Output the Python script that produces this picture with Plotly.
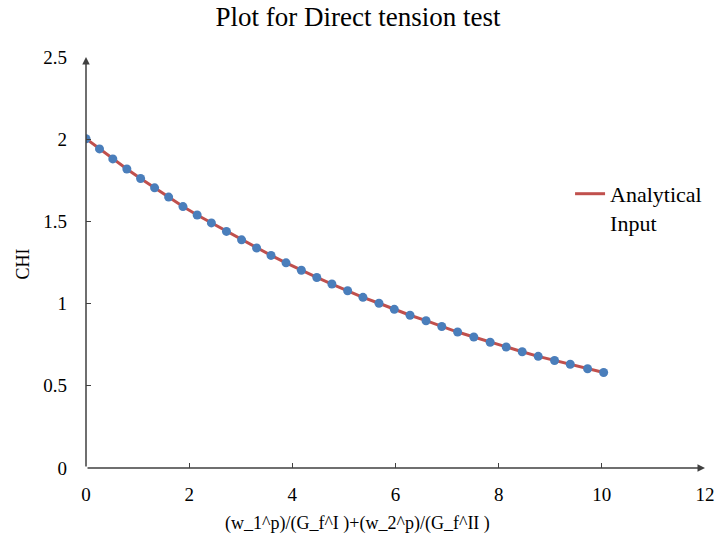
import plotly.graph_objects as go

x_vals = [0.000, 0.262, 0.520, 0.792, 1.058, 1.330, 1.602, 1.880, 2.155, 2.431,
          2.723, 3.016, 3.307, 3.587, 3.878, 4.175, 4.474, 4.767, 5.072, 5.369,
          5.680, 5.977, 6.282, 6.592, 6.897, 7.204, 7.518, 7.835, 8.146, 8.456,
          8.767, 9.083, 9.388, 9.724, 10.035]
chi_vals = [2.003, 1.941, 1.880, 1.819, 1.761, 1.704, 1.648, 1.590, 1.539, 1.491,
            1.439, 1.388, 1.338, 1.293, 1.248, 1.203, 1.159, 1.119, 1.078, 1.038,
            1.002, 0.965, 0.929, 0.896, 0.861, 0.827, 0.797, 0.765, 0.736, 0.707,
            0.679, 0.654, 0.631, 0.604, 0.581]
x_ticks = [0, 2, 4, 6, 8, 10, 12]
y_ticks = [0, 0.5, 1, 1.5, 2, 2.5]
y_tick_text = ["0", "0.5", "1", "1.5", "2", "2.5"]

FONT = "Liberation Serif, Times New Roman, serif"
AXIS_COLOR = "#404040"

W, H = 717, 548

fig = go.Figure()
fig.add_trace(go.Scatter(
    x=x_vals, y=chi_vals, mode="lines",
    line=dict(color="#C0504D", width=3),
    name="Analytical<br>Input", showlegend=True,
))
fig.add_trace(go.Scatter(
    x=x_vals, y=chi_vals, mode="markers",
    marker=dict(color="#4A7EBB", size=9),
    name="Input", showlegend=False,
))

# axis lines with arrowheads
fig.add_annotation(x=12, y=0, ax=0, ay=0, xref="x", yref="y", axref="x", ayref="y",
                   showarrow=True, arrowhead=2, arrowsize=1, arrowwidth=1.5,
                   arrowcolor=AXIS_COLOR, text="")
fig.add_annotation(x=0, y=2.5, ax=0, ay=0, xref="x", yref="y", axref="x", ayref="y",
                   showarrow=True, arrowhead=2, arrowsize=1, arrowwidth=1.5,
                   arrowcolor=AXIS_COLOR, text="")

# axis titles
fig.add_annotation(text="(w_1^p)/(G_f^I )+(w_2^p)/(G_f^II )", xref="paper", yref="paper",
                   x=0.439, y=0, yshift=-55, xanchor="center", yanchor="middle",
                   showarrow=False, font=dict(family=FONT, size=18, color="black"))
fig.add_annotation(text="CHI", xref="paper", yref="paper", x=0, y=0.5, xshift=-64,
                   yshift=-2, xanchor="center", yanchor="middle", textangle=-90,
                   showarrow=False, font=dict(family=FONT, size=18, color="black"))

fig.update_layout(
    width=W, height=H,
    margin=dict(l=86, r=12, t=57, b=80, autoexpand=False),
    paper_bgcolor="white", plot_bgcolor="white",
    font=dict(family=FONT, size=19, color="black"),
    title=dict(text="Plot for Direct tension test", x=358 / W, xanchor="center",
               y=1 - 17 / H, yanchor="middle",
               font=dict(family=FONT, size=27, color="black")),
    legend=dict(x=0.782, y=0.718, xanchor="left", yanchor="top",
                bgcolor="rgba(0,0,0,0)", valign="top",
                font=dict(family=FONT, size=22, color="black")),
    xaxis=dict(range=[0, 12], tickvals=x_ticks, showgrid=False, zeroline=False,
               showline=False, ticks="inside", ticklen=5, tickwidth=1,
               tickcolor=AXIS_COLOR, ticklabelstandoff=13, automargin=False),
    yaxis=dict(range=[0, 2.5], tickvals=y_ticks, ticktext=y_tick_text,
               showgrid=False, zeroline=False, showline=False, ticks="inside",
               ticklen=5, tickwidth=1, tickcolor=AXIS_COLOR, ticklabelstandoff=18,
               automargin=False),
)

fig.write_html(
    "out.html",
    config={"displayModeBar": False},
    post_script="document.body.style.margin='0';document.body.style.overflow='hidden';",
)
